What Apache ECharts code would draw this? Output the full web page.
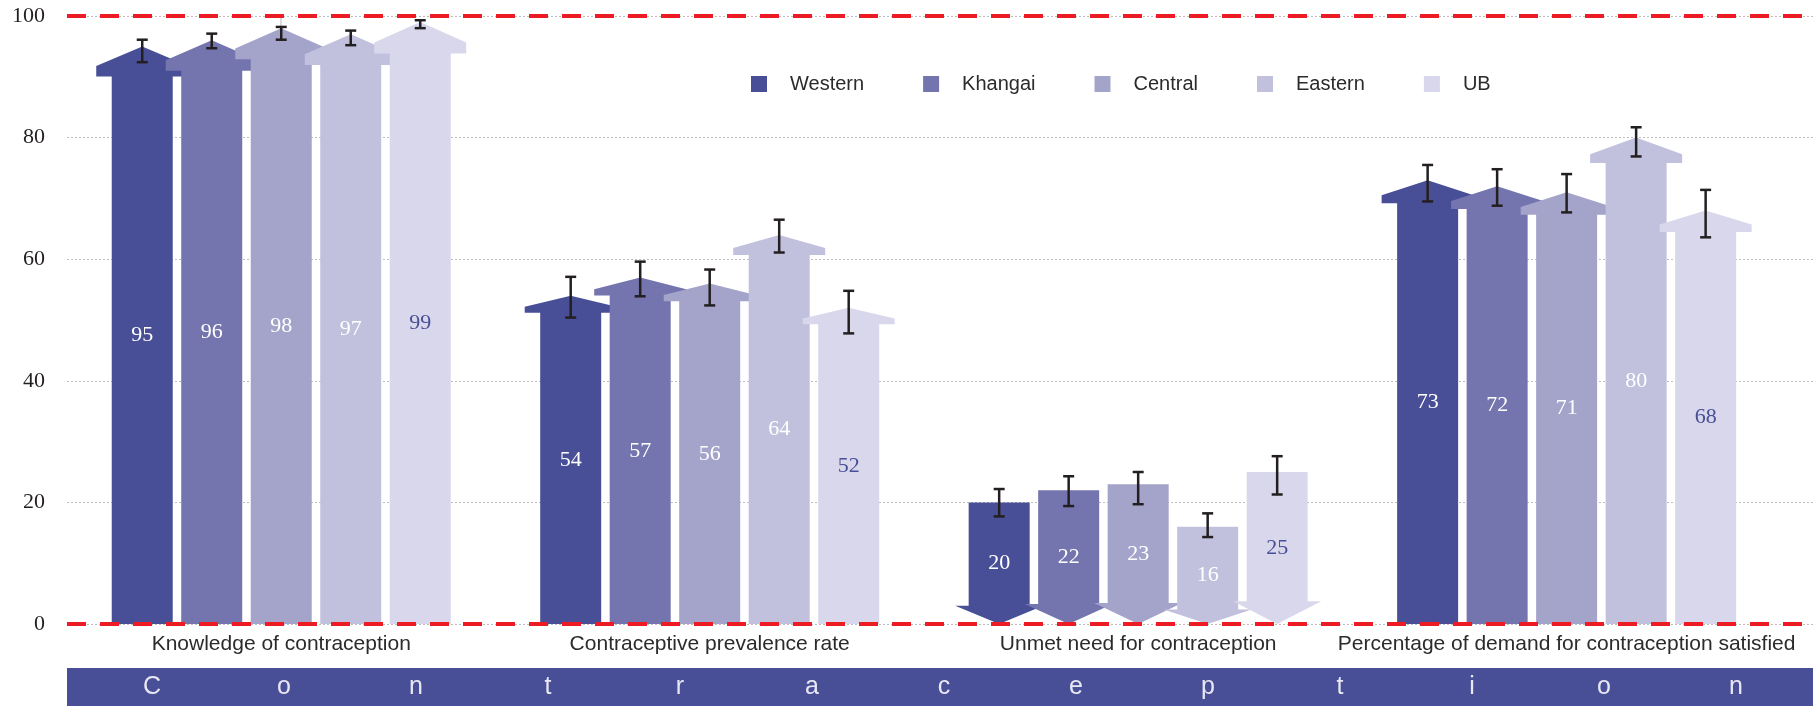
<!DOCTYPE html>
<html>
<head>
<meta charset="utf-8">
<script src="https://cdn.jsdelivr.net/npm/echarts@6/dist/echarts.min.js"></script>
<style>
html,body{margin:0;padding:0;background:#fff;}
#chart{width:1813px;height:727px;}
</style>
</head>
<body>
<div id="chart"></div>
<script>
// ---- data ----
const categories = ['Knowledge of contraception', 'Contraceptive prevalence rate', 'Unmet need for contraception', 'Percentage of demand for contraception satisfied'];
const arrowDirection = ['up', 'up', 'down', 'up'];
const regions = ['Western', 'Khangai', 'Central', 'Eastern', 'UB'];
const westernValues = [95, 54, 20, 73];
const khangaiValues = [96, 57, 22, 72];
const centralValues = [98, 56, 23, 71];
const easternValues = [97, 64, 16, 80];
const ubValues      = [99, 52, 25, 68];
const westernLow  = [92.4, 50.4, 17.7, 69.5];
const westernHigh = [96.1, 57.1, 22.2, 75.5];
const khangaiLow  = [94.7, 53.9, 19.4, 68.8];
const khangaiHigh = [97.1, 59.6, 24.3, 74.8];
const centralLow  = [96.1, 52.4, 19.7, 67.7];
const centralHigh = [98.2, 58.3, 25.0, 74.0];
const easternLow  = [95.2, 61.1, 14.3, 76.9];
const easternHigh = [97.6, 66.5, 18.2, 81.7];
const ubLow       = [98.0, 47.8, 21.3, 63.6];
const ubHigh      = [99.3, 54.8, 27.6, 71.4];
const yTicks = [0, 20, 40, 60, 80, 100];
const bannerWord = 'Contraception';

// ---- styling ----
const colors = ['#494f97', '#7474ae', '#a4a4cb', '#c1c1de', '#d8d7eb'];
const labelColors = ['#ffffff', '#ffffff', '#ffffff', '#ffffff', '#494f97'];
const PITCH = 69.5, SHAFT_HALF = 30.5, HEAD_HALF_UP = 46, HEAD_HALF_DOWN = 44;
const serif = '"Liberation Serif", "DejaVu Serif", serif';
const sans = '"Liberation Sans", Arial, sans-serif';

const valueSets = [westernValues, khangaiValues, centralValues, easternValues, ubValues];
const lowSets = [westernLow, khangaiLow, centralLow, easternLow, ubLow];
const highSets = [westernHigh, khangaiHigh, centralHigh, easternHigh, ubHigh];

function arrowRender(k) {
  return function (params, api) {
    const g = api.value(0), v = api.value(1);
    const base = api.coord([g, 0]);
    const top = api.coord([g, v]);
    const cx = base[0] + (k - 2) * PITCH;
    const y0 = base[1], yv = top[1];
    const H = y0 - yv;
    let pts;
    if (arrowDirection[g] === 'up') {
      const headH = 0.052 * H, triH = 0.034 * H;
      pts = [[cx - SHAFT_HALF, y0], [cx - SHAFT_HALF, yv + headH], [cx - HEAD_HALF_UP, yv + headH],
             [cx - HEAD_HALF_UP, yv + triH], [cx, yv], [cx + HEAD_HALF_UP, yv + triH],
             [cx + HEAD_HALF_UP, yv + headH], [cx + SHAFT_HALF, yv + headH], [cx + SHAFT_HALF, y0]];
    } else {
      const headH = 0.15 * H;
      pts = [[cx - SHAFT_HALF, yv], [cx + SHAFT_HALF, yv], [cx + SHAFT_HALF, y0 - headH],
             [cx + HEAD_HALF_DOWN, y0 - headH], [cx, y0], [cx - HEAD_HALF_DOWN, y0 - headH],
             [cx - SHAFT_HALF, y0 - headH]];
    }
    const mid = api.coord([g, v / 2]);
    return {
      type: 'group',
      children: [
        { type: 'polygon', shape: { points: pts }, style: { fill: colors[k] } },
        { type: 'text', x: cx, y: mid[1], z2: 10,
          style: { text: String(v), fill: labelColors[k], font: '22px ' + serif, align: 'center', verticalAlign: 'middle' } }
      ]
    };
  };
}

function errorRender(k) {
  return function (params, api) {
    const g = api.value(0);
    const lo = api.coord([g, api.value(1)]);
    const hi = api.coord([g, api.value(2)]);
    const cx = lo[0] + (k - 2) * PITCH;
    const st = { stroke: '#231f20', lineWidth: 2.5 };
    return {
      type: 'group',
      children: [
        { type: 'line', shape: { x1: cx, y1: lo[1], x2: cx, y2: hi[1] }, style: st },
        { type: 'line', shape: { x1: cx - 5.5, y1: lo[1], x2: cx + 5.5, y2: lo[1] }, style: st },
        { type: 'line', shape: { x1: cx - 5.5, y1: hi[1], x2: cx + 5.5, y2: hi[1] }, style: st }
      ]
    };
  };
}

const series = [];
regions.forEach(function (name, k) {
  series.push({
    name: name, type: 'custom', z: 2,
    itemStyle: { color: colors[k] },
    renderItem: arrowRender(k),
    encode: { x: 0, y: 1 },
    data: valueSets[k].map(function (v, g) { return [g, v]; })
  });
});
regions.forEach(function (name, k) {
  series.push({
    name: name + ' CI', type: 'custom', z: 5, silent: true,
    renderItem: errorRender(k),
    encode: { x: 0, y: [1, 2] },
    data: lowSets[k].map(function (lo, g) { return [g, lo, highSets[k][g]]; })
  });
});
// category labels
series.push({
  name: 'categories', type: 'custom', z: 5, silent: true,
  renderItem: function (params, api) {
    const g = api.value(0);
    const p = api.coord([g, 0]);
    return { type: 'text', x: p[0], y: p[1] + 20,
      style: { text: categories[g], fill: '#2b2b2b', font: '21px ' + sans, align: 'center', verticalAlign: 'middle' } };
  },
  encode: { x: 0, y: 1 },
  data: categories.map(function (c, g) { return [g, 0]; })
});
// red dashed reference lines at 0 and 100
series.push({
  name: 'limits', type: 'line', data: [], silent: true, z: 4,
  markLine: {
    symbol: 'none', silent: true, label: { show: false },
    lineStyle: { color: '#ed1c24', width: 4, type: [19, 14] },
    data: [{ yAxis: yTicks[0] }, { yAxis: yTicks[yTicks.length - 1] }]
  }
});

// banner
const graphics = [
  { type: 'rect', left: 67, top: 668, shape: { width: 1746, height: 38 }, style: { fill: '#494f97' }, z: 1 }
];
bannerWord.split('').forEach(function (ch, i) {
  graphics.push({ type: 'text', x: 152 + 132 * i, y: 687, z: 2,
    style: { text: ch, fill: '#e8e8f4', font: '25px ' + sans, align: 'center', verticalAlign: 'middle' } });
});

const chart = echarts.init(document.getElementById('chart'));
chart.setOption({
  animation: false,
  backgroundColor: '#fff',
  grid: { left: 67, right: 0, top: 16, bottom: 103 },
  legend: {
    data: regions, left: 751, top: 74, padding: 0, icon: 'rect', itemWidth: 16, itemHeight: 16, itemGap: 59,
    textStyle: { fontFamily: sans, fontSize: 20, color: '#2b2b2b', padding: [0, 0, 0, 18] }
  },
  xAxis: { type: 'value', min: -0.5, max: 3.575, show: false },
  yAxis: {
    type: 'value', min: yTicks[0], max: yTicks[yTicks.length - 1], interval: 20,
    axisLine: { show: true, lineStyle: { color: '#cfcfcf', width: 1.5 } },
    axisTick: { show: false },
    axisLabel: { margin: 22, color: '#231f20', fontFamily: serif, fontSize: 22 },
    splitLine: { show: true, lineStyle: { color: '#bdbdbd', width: 1, type: [2, 2] } }
  },
  graphic: graphics,
  series: series
});
</script>
</body>
</html>
